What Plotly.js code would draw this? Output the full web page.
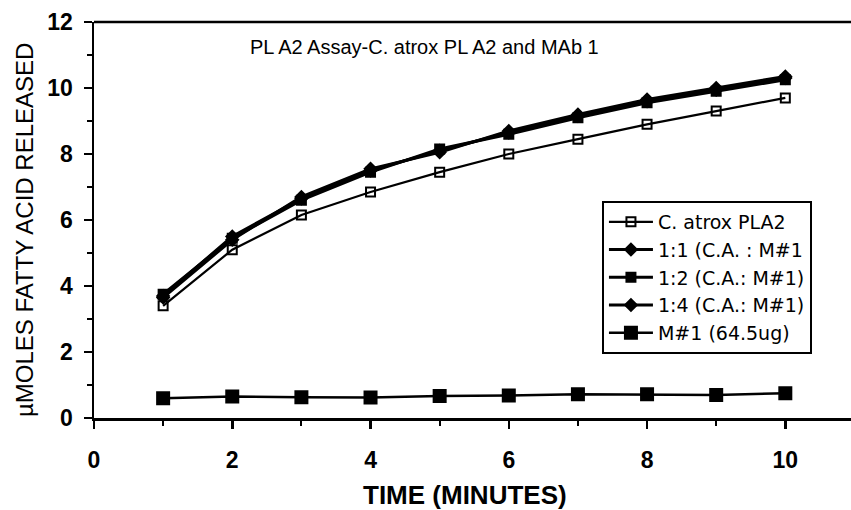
<!DOCTYPE html>
<html>
<head>
<meta charset="utf-8">
<script src="https://cdn.plot.ly/plotly-3.0.1.min.js"></script>
<style>
html,body{margin:0;padding:0;background:#fff;}
#chart{width:851px;height:510px;}
</style>
</head>
<body>
<div id="chart"></div>
<script>
const minutes = [1, 2, 3, 4, 5, 6, 7, 8, 9, 10];
const seriesNames = ["C. atrox PLA2", "1:1 (C.A. : M#1", "1:2 (C.A.: M#1)", "1:4 (C.A.: M#1)", "M#1 (64.5ug)"];
const cAtrox  = [3.4, 5.1, 6.15, 6.85, 7.45, 8.0, 8.45, 8.9, 9.3, 9.7];
const ratio11 = [3.7, 5.5, 6.65, 7.5, 8.1, 8.65, 9.15, 9.6, 9.95, 10.3];
const ratio12 = [3.75, 5.45, 6.6, 7.45, 8.15, 8.6, 9.1, 9.55, 9.9, 10.25];
const ratio14 = [3.65, 5.4, 6.7, 7.55, 8.05, 8.7, 9.2, 9.65, 10.0, 10.35];
const mab1    = [0.6, 0.65, 0.63, 0.62, 0.67, 0.68, 0.72, 0.72, 0.7, 0.75];
const xTicks = [0, 2, 4, 6, 8, 10];
const yTicks = [0, 2, 4, 6, 8, 10, 12];

const seriesValues = [cAtrox, ratio11, ratio12, ratio14, mab1];
const symbols = ["square-open", "diamond", "square", "diamond", "square"];
const widths = [2.2, 3, 3, 3, 2.5];

const FONT = "Liberation Sans, Arial, sans-serif";

const traces = seriesValues.map((vals, i) => ({
  x: minutes, y: vals, name: seriesNames[i], type: "scatter", mode: "lines+markers",
  line: {color: "#000", width: widths[i]},
  marker: {symbol: symbols[i], size: i === 4 ? 12 : 9, color: "#000", line: {color: "#000", width: 2}}
}));

const layout = {
  width: 851, height: 510,
  margin: {l: 94, r: 0, t: 22, b: 92},
  paper_bgcolor: "#fff", plot_bgcolor: "#fff",
  font: {family: FONT, color: "#000"},
  showlegend: true,
  legend: {
    x: 0.671, y: 0.548, xanchor: "left", yanchor: "top",
    bordercolor: "#000", borderwidth: 2, bgcolor: "#fff",
    font: {size: 19, color: "#000", family: "DejaVu Sans, sans-serif"},
    itemwidth: 44, tracegroupgap: 0
  },
  xaxis: {
    range: [0, 10.95], tickvals: xTicks, ticks: "outside", ticklen: 8, tickwidth: 2.5, tickcolor: "#000",
    showline: true, linecolor: "#000", linewidth: 2.5, showgrid: false, zeroline: false,
    tickfont: {size: 23, color: "#000", family: FONT, weight: "bold"},
    ticklabelstandoff: 12,
    minor: {dtick: 1, ticks: "outside", ticklen: 5, tickwidth: 2, tickcolor: "#000", showgrid: false}
  },
  yaxis: {
    range: [0, 12], tickvals: yTicks, ticks: "outside", ticklen: 8, tickwidth: 2.5, tickcolor: "#000",
    showline: true, linecolor: "#000", linewidth: 2.5, showgrid: false, zeroline: false,
    tickfont: {size: 23, color: "#000", family: FONT, weight: "bold"},
    ticklabelstandoff: 6,
    minor: {dtick: 1, ticks: "outside", ticklen: 5, tickwidth: 2, tickcolor: "#000", showgrid: false}
  },
  shapes: [{type: "line", xref: "paper", yref: "paper", x0: 0, x1: 1, y0: 1, y1: 1, line: {color: "#000", width: 2.5}}],
  annotations: [
    {xref: "x", yref: "y", x: 2.23, y: 11.24, xanchor: "left", yanchor: "middle", showarrow: false,
     text: "PL A2 Assay-C. atrox PL A2 and MAb 1", font: {size: 20, color: "#000", family: FONT}},
    {xref: "paper", yref: "paper", x: 0.49, y: -0.194, xanchor: "center", yanchor: "middle", showarrow: false,
     text: "TIME (MINUTES)", font: {size: 26, color: "#000", family: FONT, weight: "bold"}},
    {xref: "paper", yref: "paper", x: -0.091, y: 0.475, xanchor: "center", yanchor: "middle", showarrow: false,
     textangle: -90, text: "µMOLES FATTY ACID RELEASED", font: {size: 24, color: "#000", family: FONT}}
  ]
};

Plotly.newPlot("chart", traces, layout, {displayModeBar: false, staticPlot: true});
</script>
</body>
</html>
